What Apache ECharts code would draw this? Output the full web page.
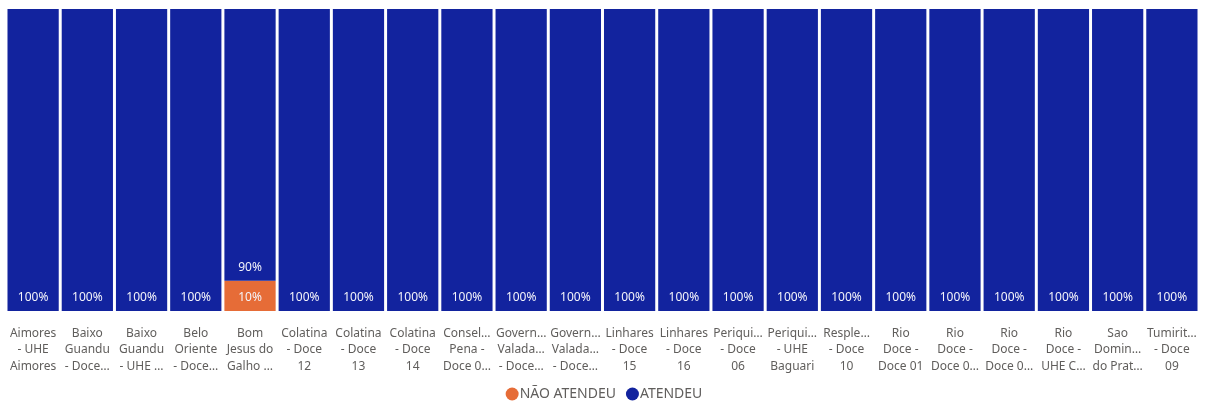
<!DOCTYPE html>
<html>
<head>
<meta charset="utf-8">
<script src="https://cdn.jsdelivr.net/npm/echarts@6/dist/echarts.min.js"></script>
<style>
  html, body { margin: 0; padding: 0; background: #fff; }
  #chart { width: 1208px; height: 403px; }
</style>
</head>
<body>
<div id="chart"></div>
<script>
// Station names as they appear under each column (wrapped and shortened)
const categories = [
  "Aimores\n- UHE\nAimores",
  "Baixo\nGuandu\n- Doce…",
  "Baixo\nGuandu\n- UHE …",
  "Belo\nOriente\n- Doce…",
  "Bom\nJesus do\nGalho …",
  "Colatina\n- Doce\n12",
  "Colatina\n- Doce\n13",
  "Colatina\n- Doce\n14",
  "Consel…\nPena -\nDoce 0…",
  "Govern…\nValada…\n- Doce…",
  "Govern…\nValada…\n- Doce…",
  "Linhares\n- Doce\n15",
  "Linhares\n- Doce\n16",
  "Periqui…\n- Doce\n06",
  "Periqui…\n- UHE\nBaguari",
  "Resple…\n- Doce\n10",
  "Rio\nDoce -\nDoce 01",
  "Rio\nDoce -\nDoce 0…",
  "Rio\nDoce -\nDoce 0…",
  "Rio\nDoce -\nUHE C…",
  "Sao\nDomin…\ndo Prat…",
  "Tumirit…\n- Doce\n09"
];

// Share of samples per station (%)
const naoAtendeu = [0, 0, 0, 0, 10, 0, 0, 0, 0, 0, 0, 0, 0, 0, 0, 0, 0, 0, 0, 0, 0, 0];
const atendeu    = [100, 100, 100, 100, 90, 100, 100, 100, 100, 100, 100, 100, 100, 100, 100, 100, 100, 100, 100, 100, 100, 100];

const seriesNames = ["NÃO ATENDEU", "ATENDEU"];
const colors = ["#E66C37", "#12239E"];

const FONT = "'Noto Sans', 'DejaVu Sans', sans-serif";

const chart = echarts.init(document.getElementById('chart'), null, { renderer: 'canvas' });

function pctLabel(p) {
  return p.value > 0 ? p.value + '%' : '';
}

// Value labels sit near the bottom of each segment
const segLabel = {
  show: true,
  position: 'insideBottom',
  distance: 7,
  color: '#F4F4FA',
  fontSize: 12,
  fontFamily: FONT,
  formatter: pctLabel
};

chart.setOption({
  animation: false,
  color: colors,
  grid: { left: 6, right: 9, top: 9, bottom: 92, containLabel: false },
  legend: {
    top: 387,
    left: 'center',
    icon: 'circle',
    itemWidth: 13,
    itemHeight: 13,
    itemGap: 10,
    padding: 0,
    textStyle: { color: '#605E5C', fontSize: 14, fontFamily: FONT, padding: [0, 0, 0, -4] },
    data: seriesNames
  },
  xAxis: {
    type: 'category',
    data: categories,
    axisLine: { show: false },
    axisTick: { show: false },
    axisLabel: {
      interval: 0,
      color: '#605E5C',
      fontSize: 12,
      fontFamily: FONT,
      lineHeight: 16.5,
      margin: 14,
      align: 'center'
    }
  },
  yAxis: {
    type: 'value',
    min: 0,
    max: 100,
    show: false,
    splitLine: { show: false }
  },
  series: [
    {
      name: seriesNames[0],
      type: 'bar',
      stack: 'total',
      data: naoAtendeu,
      barCategoryGap: '5.5%',
      label: segLabel
    },
    {
      name: seriesNames[1],
      type: 'bar',
      stack: 'total',
      data: atendeu,
      barCategoryGap: '5.5%',
      label: segLabel
    }
  ]
});
</script>
</body>
</html>
